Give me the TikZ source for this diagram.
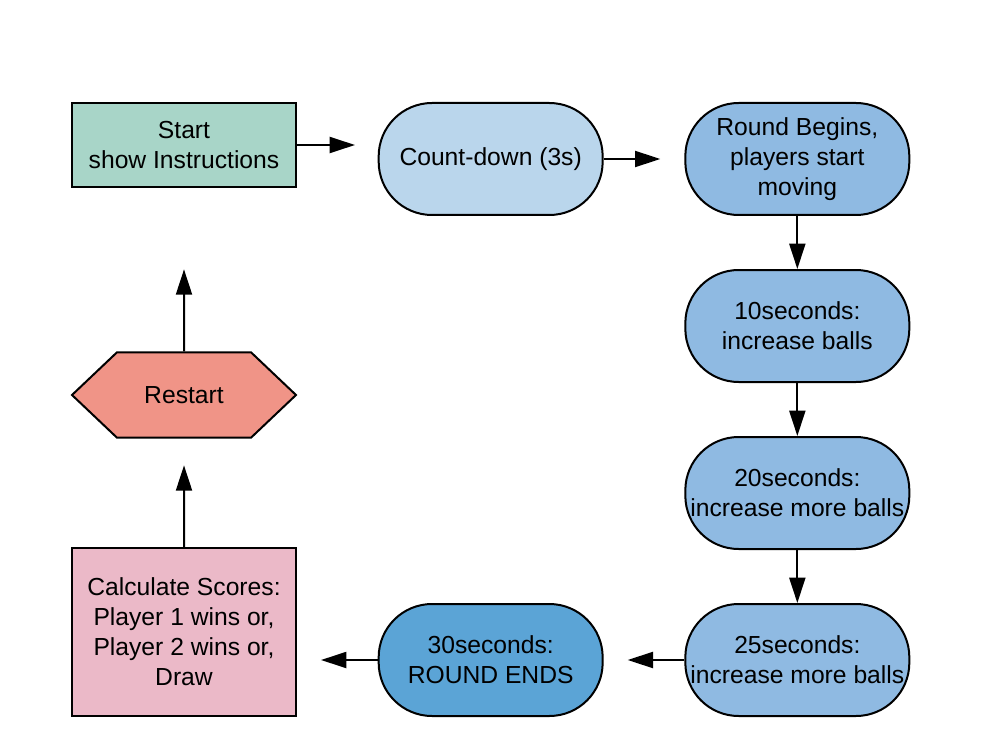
\documentclass[tikz,border=0pt]{standalone}
\usepackage{fontspec}
\setmainfont{Liberation Sans}
\usepackage{tikz}
\usetikzlibrary{positioning,arrows.meta,shapes.symbols}
\definecolor{startgreen}{RGB}{168,213,200}
\definecolor{paleblue}{RGB}{186,214,236}
\definecolor{midblue}{RGB}{143,186,226}
\definecolor{deepblue}{RGB}{91,164,214}
\definecolor{calcpink}{RGB}{235,185,200}
\definecolor{restartred}{RGB}{240,148,135}
\tikzstyle{startbox} = [rectangle, minimum width=168pt, minimum height=63pt, align=center, draw=black, line width=1.5pt, fill=startgreen]
\tikzstyle{pill} = [rectangle, rounded corners=40pt, minimum width=168pt, minimum height=84pt, inner sep=1pt, align=center, draw=black, line width=1.5pt, fill=midblue]
\tikzstyle{calcbox} = [rectangle, minimum width=168pt, minimum height=126pt, align=center, draw=black, line width=1.5pt, fill=calcpink]
\tikzstyle{hexbox} = [signal, signal to=west and east, signal pointer angle=87, minimum width=168pt, minimum height=64pt, align=center, draw=black, line width=1.5pt, fill=restartred]
\tikzstyle{arrow} = [line width=1.5pt,-{Triangle[length=19pt,width=12pt]}]

\begin{document}
\begin{tikzpicture}[x=0.75pt,y=-0.75pt,node distance=230pt,font=\fontsize{18.5}{22.5}\selectfont]
\useasboundingbox (0,0) rectangle (988,752);
%
\node (start) [startbox] at (184,145) {Start\\show Instructions};
\node (countdown) [pill, fill=paleblue, right of=start, yshift=-10.5pt] {Count-down (3s)};
\node (round) [pill, right of=countdown] {Round Begins,\\players start\\moving};
\node (ten) [pill, below of=round, node distance=125.25pt] {10seconds:\\increase balls};
\node (twenty) [pill, below of=ten, node distance=125.25pt] {20seconds:\\increase more balls};
\node (twentyfive) [pill, below of=twenty, node distance=125.25pt] {25seconds:\\increase more balls};
\node (thirty) [pill, fill=deepblue, left of=twentyfive] {30seconds:\\ROUND ENDS};
\node (calc) [calcbox, left of=thirty, yshift=21pt] {Calculate Scores:\\Player 1 wins or,\\Player 2 wins or,\\Draw};
\node (restart) [hexbox] at (184,395) {Restart};
%
\draw [arrow, shorten >=17pt] (start.east) -- (start.east -| countdown.west);
\draw [arrow, shorten >=18pt] (countdown) -- (round);
\draw [arrow] (round) -- (ten);
\draw [arrow] (ten) -- (twenty);
\draw [arrow] (twenty) -- (twentyfive);
\draw [arrow, shorten >=18pt] (twentyfive) -- (thirty);
\draw [arrow, shorten >=18pt] (thirty.west) -- (thirty.west -| calc.east);
\draw [arrow, shorten >=20pt] (calc) -- (restart);
\draw [arrow, shorten >=61pt] (restart) -- (start);
%
\end{tikzpicture}
\end{document}
